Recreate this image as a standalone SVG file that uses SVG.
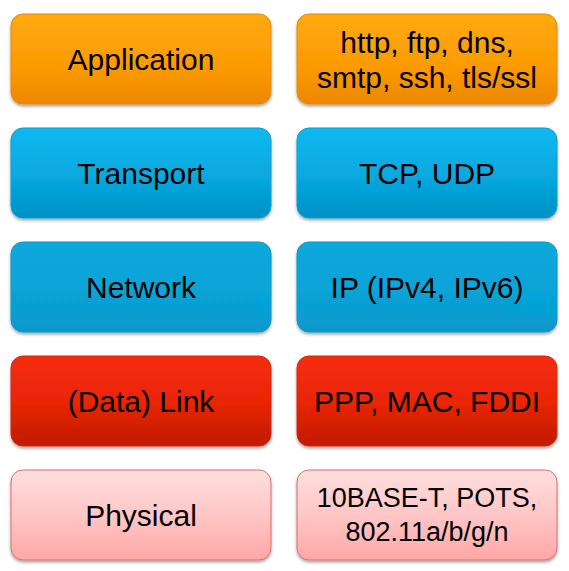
<svg xmlns="http://www.w3.org/2000/svg" width="569" height="571" viewBox="0 0 569 571">
<defs>
<linearGradient id="gOrange" x1="0" y1="0" x2="0" y2="1">
<stop offset="0" stop-color="#FFAA0C"/><stop offset="0.6" stop-color="#FB9A04"/><stop offset="1" stop-color="#EE8600"/>
</linearGradient>
<linearGradient id="gBlue1" x1="0" y1="0" x2="0" y2="1">
<stop offset="0" stop-color="#10B8F0"/><stop offset="0.6" stop-color="#06A6DC"/><stop offset="1" stop-color="#0090C6"/>
</linearGradient>
<linearGradient id="gBlue2" x1="0" y1="0" x2="0" y2="1">
<stop offset="0" stop-color="#0AA8DC"/><stop offset="0.7" stop-color="#06A2D6"/><stop offset="1" stop-color="#0896CA"/>
</linearGradient>
<linearGradient id="gRed" x1="0" y1="0" x2="0" y2="1">
<stop offset="0" stop-color="#F72C0A"/><stop offset="0.5" stop-color="#EA2606"/><stop offset="1" stop-color="#C01A02"/>
</linearGradient>
<linearGradient id="gPink" x1="0" y1="0" x2="0" y2="1">
<stop offset="0" stop-color="#FFDEDE"/><stop offset="0.5" stop-color="#FFC6C6"/><stop offset="1" stop-color="#FFA6A6"/>
</linearGradient>
<filter id="sh" x="-10%" y="-10%" width="120%" height="130%">
<feDropShadow dx="0" dy="2" stdDeviation="1.8" flood-color="#000" flood-opacity="0.35"/>
</filter>
</defs>
<style>
.box{filter:url(#sh);}
.o{fill:url(#gOrange);stroke:#E08A10;stroke-width:1;}
.b1{fill:url(#gBlue1);stroke:#0A9FD0;stroke-width:1;}
.b2{fill:url(#gBlue2);stroke:#0A98CA;stroke-width:1;}
.r{fill:url(#gRed);stroke:#D02A10;stroke-width:1;}
.p{fill:url(#gPink);stroke:#D87070;stroke-width:1;}
text{font-family:"Liberation Sans",Arial,sans-serif;font-size:30px;fill:#000;text-anchor:middle;}
.sm{font-size:27px;}
</style>
<rect width="569" height="571" fill="#FFFFFF"/>
<g id="connectors"></g>
<g id="application">
<rect class="box o" x="11" y="14" width="260" height="90" rx="12"/>
<text x="141" y="70">Application</text>
</g>
<g id="application-protocols">
<rect class="box o" x="297" y="14" width="260" height="90" rx="12"/>
<text x="427" y="53">http, ftp, dns,</text>
<text x="427" y="88">smtp, ssh, tls/ssl</text>
</g>
<g id="transport">
<rect class="box b1" x="11" y="128" width="260" height="90" rx="12"/>
<text x="141" y="184">Transport</text>
</g>
<g id="transport-protocols">
<rect class="box b1" x="297" y="128" width="260" height="90" rx="12"/>
<text x="427" y="184">TCP, UDP</text>
</g>
<g id="network">
<rect class="box b2" x="11" y="242" width="260" height="90" rx="12"/>
<text x="141" y="298">Network</text>
</g>
<g id="network-protocols">
<rect class="box b2" x="297" y="242" width="260" height="90" rx="12"/>
<text x="427" y="298">IP (IPv4, IPv6)</text>
</g>
<g id="link">
<rect class="box r" x="11" y="356" width="260" height="90" rx="12"/>
<text x="141" y="412">(Data) Link</text>
</g>
<g id="link-protocols">
<rect class="box r" x="297" y="356" width="260" height="90" rx="12"/>
<text x="427" y="412">PPP, MAC, FDDI</text>
</g>
<g id="physical">
<rect class="box p" x="11" y="470" width="260" height="90" rx="12"/>
<text x="141" y="526">Physical</text>
</g>
<g id="physical-protocols">
<rect class="box p" x="297" y="470" width="260" height="90" rx="12"/>
<text class="sm" x="427" y="507">10BASE-T, POTS,</text>
<text class="sm" x="427" y="541">802.11a/b/g/n</text>
</g>
</svg>
